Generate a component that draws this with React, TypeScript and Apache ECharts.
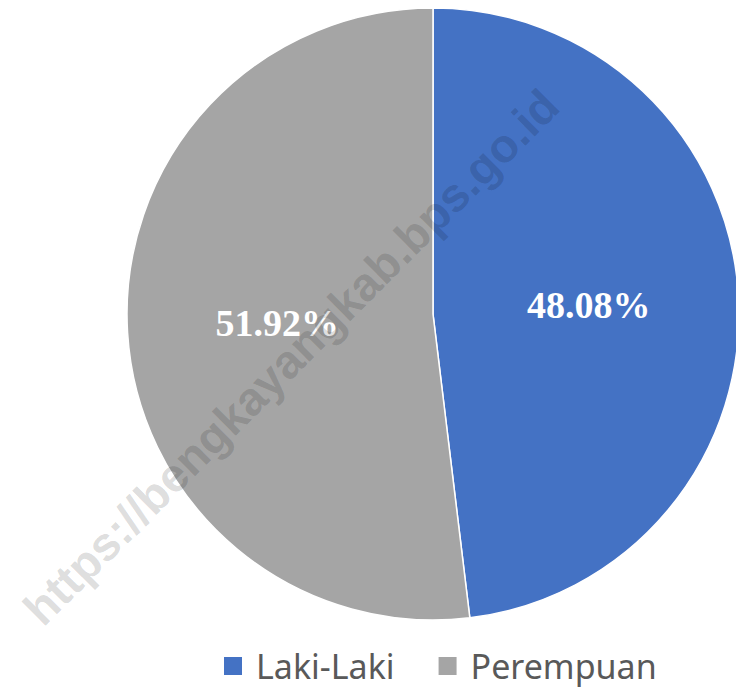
import React, { useEffect, useRef } from "react";
import * as echarts from "echarts";

const categories = ["Laki-Laki", "Perempuan"];
const values = [48.08, 51.92];
const colors = ["#4472C4", "#A5A5A5"];
const watermark = "https://bengkayangkab.bps.go.id";

export default function App() {
  const ref = useRef<HTMLDivElement>(null);
  useEffect(() => {
    document.body.style.margin = "0";
    const chart = echarts.init(ref.current!, null, { renderer: "svg" });
    chart.setOption({
      animation: false,
      color: colors,
      legend: {
        data: categories,
        left: 222,
        top: 649,
        padding: 0,
        icon: "rect",
        itemWidth: 20,
        itemHeight: 20,
        itemGap: 42,
        textStyle: {
          fontFamily: "Noto Sans",
          fontSize: 34,
          color: "#595959",
          padding: [0, 0, 0, 8],
        },
      },
      series: [
        {
          type: "pie",
          center: [433, 314],
          radius: [0, 306],
          startAngle: 90,
          clockwise: true,
          data: categories.map((c, i) => ({ name: c, value: values[i] })),
          itemStyle: { borderColor: "#ffffff", borderWidth: 1.5 },
          label: {
            show: true,
            position: "inside",
            formatter: (p: any) => p.value.toFixed(2) + "%",
            fontFamily: "Liberation Serif",
            fontWeight: "bold",
            fontSize: 38,
            color: "#ffffff",
          },
          labelLine: { show: false },
          emphasis: { disabled: true },
        },
      ],
      graphic: [
        {
          type: "text",
          x: 291,
          y: 357,
          rotation: Math.PI / 4,
          z: 100,
          style: {
            text: watermark,
            fontFamily: "Liberation Sans",
            fontWeight: "bold",
            fontSize: 47,
            fill: "rgba(0,0,0,0.14)",
            align: "center",
            verticalAlign: "middle",
          },
        },
      ],
    });
    return () => chart.dispose();
  }, []);
  return <div ref={ref} style={{ width: 736, height: 688, position: "absolute", left: 0, top: 0 }} />;
}
